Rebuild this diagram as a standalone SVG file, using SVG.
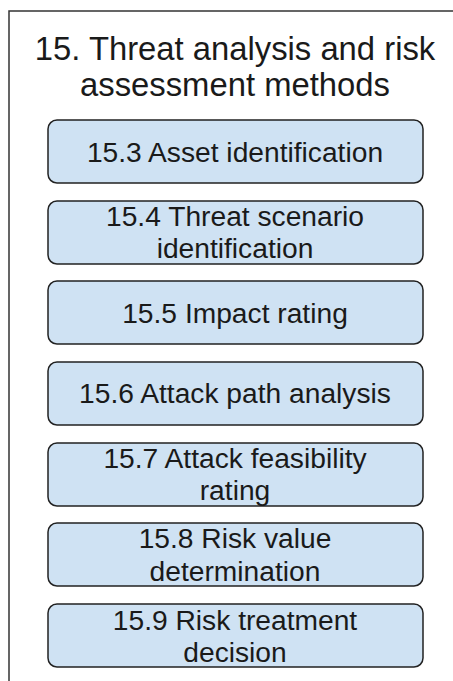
<svg xmlns="http://www.w3.org/2000/svg" width="453" height="681" viewBox="0 0 453 681">
<style>
.frame{fill:#fff;stroke:#333;stroke-width:1.5}
.box rect{fill:#cfe2f3;stroke:#222;stroke-width:1.5}
text{font-family:"Liberation Sans",Arial,sans-serif;fill:#1a1a1a;text-anchor:middle}
.title{font-size:32.8px}
.lbl{font-size:28.2px}
</style>
<rect width="453" height="681" fill="#fff"/>
<g id="container">
<rect class="frame" x="9" y="11" width="460" height="690"/>
<text class="title" x="235" y="60">15. Threat analysis and risk</text>
<text class="title" x="235" y="96">assessment methods</text>
</g>
<g id="n153" class="box">
<rect x="48" y="120" width="375" height="63" rx="9"/>
<text class="lbl" x="235" y="162">15.3 Asset identification</text>
</g>
<g id="n154" class="box">
<rect x="48" y="201" width="375" height="63" rx="9"/>
<text class="lbl" x="235" y="226">15.4 Threat scenario</text>
<text class="lbl" x="235" y="258">identification</text>
</g>
<g id="n155" class="box">
<rect x="48" y="281" width="375" height="63" rx="9"/>
<text class="lbl" x="235" y="323">15.5 Impact rating</text>
</g>
<g id="n156" class="box">
<rect x="48" y="362" width="375" height="63" rx="9"/>
<text class="lbl" x="235" y="403">15.6 Attack path analysis</text>
</g>
<g id="n157" class="box">
<rect x="48" y="443" width="375" height="63" rx="9"/>
<text class="lbl" x="235" y="468">15.7 Attack feasibility</text>
<text class="lbl" x="235" y="500">rating</text>
</g>
<g id="n158" class="box">
<rect x="48" y="523" width="375" height="63" rx="9"/>
<text class="lbl" x="235" y="548">15.8 Risk value</text>
<text class="lbl" x="235" y="581">determination</text>
</g>
<g id="n159" class="box">
<rect x="48" y="604" width="375" height="63" rx="9"/>
<text class="lbl" x="235" y="630">15.9 Risk treatment</text>
<text class="lbl" x="235" y="662">decision</text>
</g>
<g id="connectors"></g>
</svg>
